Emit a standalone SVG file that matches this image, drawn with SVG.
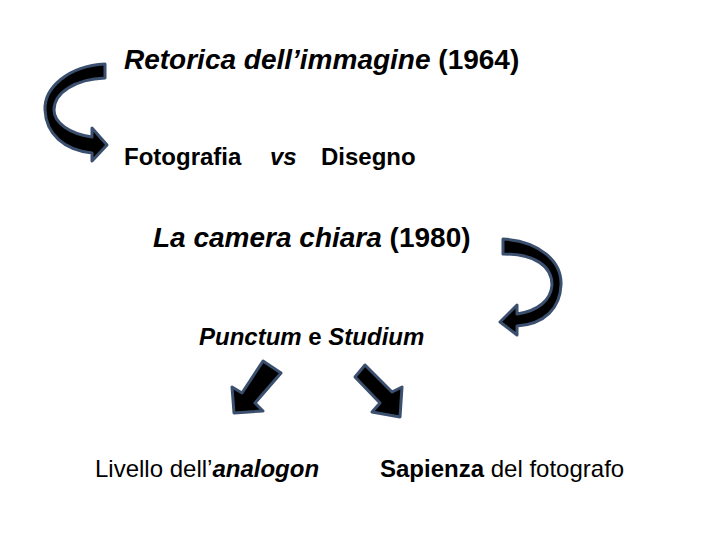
<svg xmlns="http://www.w3.org/2000/svg" width="720" height="540" viewBox="0 0 720 540">
<style>
text{font-family:"Liberation Sans",Arial,sans-serif;fill:#000}
.b{font-weight:bold}
.i{font-style:italic}
.arr{fill:#000;stroke:#3b4f6e;stroke-width:3;stroke-linejoin:round}
</style>
<rect width="720" height="540" fill="#fff"/>
<g id="connectors">
<path class="arr" d="M105,64 C68,66 44,88 45,110 C46,134 64,150 92,153 L92,161 L107,145 L92,128 L92,137 C70,134 54,123 54,110 C54,93 75,79 105,78 Z"/>
<path class="arr" d="M503,239 C540,241 562,262 561,285 C560,308 545,324 517,326 L517,335 L500,322 L517,305 L517,314 C538,311 551,300 552,285 C552,266 535,254 503,254 Z"/>
<polygon class="arr" points="263,361 281,373 255,403 263,411 234,413 232,387 242,393"/>
<polygon class="arr" points="355,377 365,365 392,392 402,387 400,417 372,412 380,403"/>
</g>
<g id="n1"><text x="124" y="69" font-size="28" class="b"><tspan class="i">Retorica dell’immagine</tspan> (1964)</text></g>
<g id="n2"><text x="124" y="165" font-size="24" class="b">Fotografia</text><text x="270" y="165" font-size="24" class="b i">vs</text><text x="321" y="165" font-size="24" class="b">Disegno</text></g>
<g id="n3"><text x="153" y="247" font-size="28" class="b"><tspan class="i">La camera chiara</tspan> (1980)</text></g>
<g id="n4"><text x="199" y="345" font-size="24" class="b"><tspan class="i">Punctum</tspan> e <tspan class="i">Studium</tspan></text></g>
<g id="n5"><text x="95" y="477" font-size="24">Livello dell’<tspan class="b i">analogon</tspan></text></g>
<g id="n6"><text x="380" y="477" font-size="24"><tspan class="b">Sapienza</tspan> del fotografo</text></g>
</svg>
